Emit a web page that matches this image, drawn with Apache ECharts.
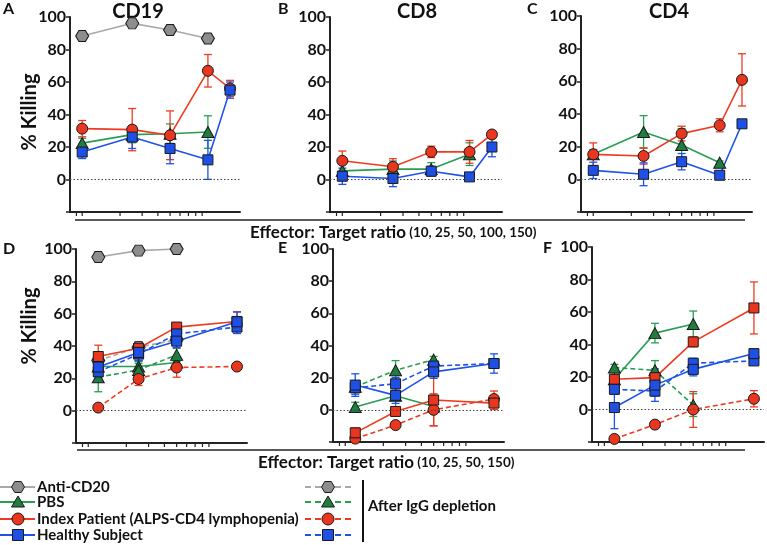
<!DOCTYPE html>
<html><head><meta charset="utf-8">
<script src="https://cdn.jsdelivr.net/npm/echarts@6/dist/echarts.min.js"></script>
<style>html,body{margin:0;padding:0;background:#fff}#c{width:767px;height:545px}</style>
</head><body><div id="c"></div>
<script>
// E:T ratios (x positions)
const xTop = [10, 25, 50, 100, 150];
const xBottom = [12, 25, 50, 150];
const yTicks = [0, 20, 40, 60, 80, 100];
const xMinorTicks = [9, 10, 20, 30, 40, 50, 60, 70, 80, 90];

// Panel A - CD19
const A_anti = [88.3, 96.1, 92, 86.8, null];      const A_anti_err = [1, 1, 3, 1, 0];
const A_pbs = [22.4, 27.6, 28.2, 29.2, null];     const A_pbs_err = [3, 5, 6, 10, 0];
const A_index = [31.3, 30.7, 27.2, 66.9, 56];     const A_index_err = [5, 13, 15, 10, 5];
const A_healthy = [16.9, 26.1, 19.1, 12.1, 55];   const A_healthy_err = [4, 7, 9.4, 12, 5];
// Panel B - CD8
const B_pbs = [5.3, 6.4, 6.4, 15.6, null];        const B_pbs_err = [4, 5, 4, 7, 0];
const B_index = [11.5, 7.8, 17, 17, 27.7];        const B_index_err = [6, 5, 3.5, 7, 2];
const B_healthy = [2, 0.6, 5.1, 1.6, 20];         const B_healthy_err = [5, 5, 3, 1, 6];
// Panel C - CD4
const C_pbs = [15.3, 29, 21, 10.2, null];         const C_pbs_err = [3, 10, 10, 1, 0];
const C_index = [15.3, 14.3, 28, 33.1, 60.9];     const C_index_err = [7, 5, 4.5, 4, 16];
const C_healthy = [5.5, 3.1, 10.8, 2.5, 34];      const C_healthy_err = [5, 7, 5, 1, 1];
// Panel D
const D_anti = [95, 99, 100, null];               const D_anti_err = [1, 1, 1, 0];
const D_antiDep = [31, 39.3, 43.8, null];         const D_antiDep_err = [2, 3, 3, 0];
const D_pbs = [27.3, 27.3, 29.8, null];           const D_pbs_err = [3, 3, 3, 0];
const D_pbsDep = [20.7, 25.2, 34.5, null];        const D_pbsDep_err = [9, 4, 4, 0];
const D_index = [33.5, 38.6, 51.7, 55.2];         const D_index_err = [7, 4, 2, 6];
const D_indexDep = [1.9, 19.6, 26.7, 27.3];       const D_indexDep_err = [1, 4, 6, 2];
const D_healthy = [27, 36, 43, 55];               const D_healthy_err = [4, 5, 4, 6];
const D_healthyDep = [24, 35, 47.5, 51.7];        const D_healthyDep_err = [3, 4, 3, 4];
// Panel E
const E_pbs = [1.7, 8.8, 2.1, null];              const E_pbs_err = [3, 8, 2, 0];
const E_pbsDep = [14.3, 24.6, 31.2, null];        const E_pbsDep_err = [3, 6, 2, 0];
const E_index = [-14.3, -1, 6.1, 4.2];            const E_index_err = [3, 2, 16, 4];
const E_indexDep = [-17.9, -9.5, 0, 6.7];         const E_indexDep_err = [1, 1, 10, 5];
const E_healthy = [15.4, 9, 23.6, 28.8];          const E_healthy_err = [7, 5, 4, 6];
const E_healthyDep = [13.7, 16.2, 27.2, 28.8];    const E_healthyDep_err = [4, 4, 3, 3];
// Panel F
const F_pbs = [18.6, 47, 52.6, null];             const F_pbs_err = [3, 6, 8, 0];
const F_pbsDep = [25.8, 24.1, 2.7, null];         const F_pbsDep_err = [2, 6, 7, 0];
const F_index = [18.6, 19.6, 41.6, 62.5];         const F_index_err = [2, 3, 3, 16];
const F_indexDep = [-18.1, -9.3, 0, 6.6];         const F_indexDep_err = [1, 1, 11, 5];
const F_healthy = [1.2, 15, 24.7, 34.4];          const F_healthy_err = [13, 10, 4, 2];
const F_healthyDep = [12.4, 11.3, 28.5, 29.9];    const F_healthyDep_err = [3, 3, 3, 2];

const FONT = 'Lato, "Open Sans", sans-serif';
const GRAY = '#a9a9a9', GRAYF = '#8d8d8d';
const GREEN = '#2a9d55', GREENF = '#1f7d3f';
const RED = '#ef3a22', REDF = '#e8361f';
const BLUE = '#1f52e8', BLUEF = '#1e50e6';
const HEX = 'path://M-1,0L-0.5,-0.866L0.5,-0.866L1,0L0.5,0.866L-0.5,0.866Z';
const STY = {
  anti:   {c: GRAY, f: GRAYF, s: HEX, z: [13, 11]},
  pbs:    {c: GREEN, f: GREENF, s: 'triangle', z: [12, 11]},
  index:  {c: RED, f: REDF, s: 'circle', z: 11},
  indexSq:{c: RED, f: REDF, s: 'rect', z: 10},
  healthy:{c: BLUE, f: BLUEF, s: 'rect', z: 10}
};

const grids = [
  {left: 70, top: 17, width: 170, height: 195},
  {left: 330, top: 17, width: 172, height: 195},
  {left: 581, top: 16, width: 171, height: 196},
  {left: 76, top: 249, width: 171, height: 194},
  {left: 333, top: 249, width: 171, height: 193},
  {left: 592, top: 247, width: 172, height: 195}
];

const xAxes = grids.map((g, i) => ({
  type: 'log', logBase: 10, min: 8, max: 180, gridIndex: i,
  axisLine: {show: true, onZero: false, lineStyle: {color: '#222', width: 2}},
  axisTick: {show: false},
  axisLabel: {show: false}, splitLine: {show: false}
}));
const yAxes = grids.map((g, i) => ({
  type: 'value', min: -20, max: 100, interval: 20, gridIndex: i,
  axisLine: {show: true, lineStyle: {color: '#222', width: 2}},
  axisTick: {show: true, length: 4, lineStyle: {color: '#222', width: 1.5}},
  axisLabel: {formatter: v => yTicks.indexOf(v) >= 0 ? String(v) : '', fontSize: 16, fontWeight: 'bold', color: '#111', fontFamily: FONT, margin: 4},
  splitLine: {show: false}
}));

const series = [];
// small log-scale tick marks under each x axis
grids.forEach((g, gi) => {
  series.push({
    type: 'custom', xAxisIndex: gi, yAxisIndex: gi, silent: true, z: 1, clip: false,
    data: xMinorTicks.map(v => [v, -20]), encode: {x: 0, y: 1},
    renderItem: function (params, api) {
      const p = api.coord([api.value(0), api.value(1)]);
      return {type: 'line', shape: {x1: p[0], y1: p[1] + 1, x2: p[0], y2: p[1] + 4}, style: {stroke: '#222', lineWidth: 1.2}};
    }
  });
});
function add(gi, xs, vals, errs, key, dashed, zeroLine) {
  const st = STY[key];
  const pts = [], eb = [];
  xs.forEach((x, k) => { if (vals[k] !== null) { pts.push([x, vals[k]]); eb.push([x, vals[k], errs[k]]); } });
  const col = st.c;
  series.push({
    type: 'custom', xAxisIndex: gi, yAxisIndex: gi, data: eb, z: 2, silent: true, clip: false,
    encode: {x: 0, y: 1},
    renderItem: function (params, api) {
      const x = api.value(0), y = api.value(1), e = api.value(2);
      if (!e) return null;
      const t = api.coord([x, y + e]), b = api.coord([x, y - e]);
      const w = 4, ls = {stroke: col, lineWidth: 1.3};
      return {type: 'group', children: [
        {type: 'line', shape: {x1: t[0], y1: t[1], x2: b[0], y2: b[1]}, style: ls},
        {type: 'line', shape: {x1: t[0] - w, y1: t[1], x2: t[0] + w, y2: t[1]}, style: ls},
        {type: 'line', shape: {x1: b[0] - w, y1: b[1], x2: b[0] + w, y2: b[1]}, style: ls}
      ]};
    }
  });
  const s = {
    type: 'line', xAxisIndex: gi, yAxisIndex: gi, data: pts, z: 3, silent: true, clip: false,
    symbol: st.s, symbolSize: st.z, showAllSymbol: true,
    lineStyle: {color: col, width: 1.6, type: dashed ? [5, 3] : 'solid'},
    itemStyle: {color: st.f, borderColor: '#1a1a1a', borderWidth: 1}
  };
  if (zeroLine) {
    s.markLine = {silent: true, symbol: 'none', label: {show: false},
      lineStyle: {color: '#444', type: [1.5, 2], width: 1}, data: [{yAxis: 0}]};
  }
  series.push(s);
}

// Top row
add(0, xTop, A_anti, A_anti_err, 'anti', false, true);
add(0, xTop, A_pbs, A_pbs_err, 'pbs', false);
add(0, xTop, A_index, A_index_err, 'index', false);
add(0, xTop, A_healthy, A_healthy_err, 'healthy', false);
add(1, xTop, B_pbs, B_pbs_err, 'pbs', false, true);
add(1, xTop, B_index, B_index_err, 'index', false);
add(1, xTop, B_healthy, B_healthy_err, 'healthy', false);
add(2, xTop, C_pbs, C_pbs_err, 'pbs', false, true);
add(2, xTop, C_index, C_index_err, 'index', false);
add(2, xTop, C_healthy, C_healthy_err, 'healthy', false);
// Bottom row
add(3, xBottom, D_anti, D_anti_err, 'anti', false, true);
add(3, xBottom, D_antiDep, D_antiDep_err, 'anti', true);
add(3, xBottom, D_pbs, D_pbs_err, 'pbs', false);
add(3, xBottom, D_pbsDep, D_pbsDep_err, 'pbs', true);
add(3, xBottom, D_indexDep, D_indexDep_err, 'index', true);
add(3, xBottom, D_index, D_index_err, 'indexSq', false);
add(3, xBottom, D_healthyDep, D_healthyDep_err, 'healthy', true);
add(3, xBottom, D_healthy, D_healthy_err, 'healthy', false);
add(4, xBottom, E_pbs, E_pbs_err, 'pbs', false, true);
add(4, xBottom, E_pbsDep, E_pbsDep_err, 'pbs', true);
add(4, xBottom, E_indexDep, E_indexDep_err, 'index', true);
add(4, xBottom, E_index, E_index_err, 'indexSq', false);
add(4, xBottom, E_healthyDep, E_healthyDep_err, 'healthy', true);
add(4, xBottom, E_healthy, E_healthy_err, 'healthy', false);
add(5, xBottom, F_pbs, F_pbs_err, 'pbs', false, true);
add(5, xBottom, F_pbsDep, F_pbsDep_err, 'pbs', true);
add(5, xBottom, F_indexDep, F_indexDep_err, 'index', true);
add(5, xBottom, F_index, F_index_err, 'indexSq', false);
add(5, xBottom, F_healthyDep, F_healthyDep_err, 'healthy', true);
add(5, xBottom, F_healthy, F_healthy_err, 'healthy', false);

// graphics: texts, separators, legend
const G = [];
function txt(x, y, t, size, align, rot) {
  G.push({type: 'text', x: x, y: y, rotation: rot || 0,
    style: {text: t, font: 'bold ' + size + 'px ' + FONT, fill: '#111', textAlign: align || 'left', textVerticalAlign: 'middle'}});
}
txt(3, 9, 'A', 16); txt(278, 9, 'B', 16); txt(527, 9, 'C', 16);
txt(3, 249, 'D', 16); txt(278, 248, 'E', 16); txt(543, 248, 'F', 16);
txt(138, 12, 'CD19', 20, 'center'); txt(417, 12, 'CD8', 20, 'center'); txt(669, 12, 'CD4', 20, 'center');
txt(30, 112, '% Killing', 20, 'center', Math.PI / 2);
txt(30, 326, '% Killing', 20, 'center', Math.PI / 2);
G.push({type: 'text', x: 250, y: 233, style: {text: '{a|Effector: Target ratio} {b|(10, 25, 50, 100, 150)}',
  rich: {a: {font: 'bold 17px ' + FONT, fill: '#111'}, b: {font: 'bold 13.5px ' + FONT, fill: '#111'}}, textVerticalAlign: 'middle'}});
G.push({type: 'text', x: 258, y: 463, style: {text: '{a|Effector: Target ratio} {b|(10, 25, 50, 150)}',
  rich: {a: {font: 'bold 17px ' + FONT, fill: '#111'}, b: {font: 'bold 13.5px ' + FONT, fill: '#111'}}, textVerticalAlign: 'middle'}});
G.push({type: 'line', shape: {x1: 75, y1: 220, x2: 745, y2: 220}, style: {stroke: '#222', lineWidth: 1.5}});
G.push({type: 'line', shape: {x1: 77, y1: 450, x2: 745, y2: 450}, style: {stroke: '#222', lineWidth: 1.5}});

function marker(key, cx, cy) {
  const st = STY[key];
  const style = {fill: st.f, stroke: '#1a1a1a', lineWidth: 1};
  if (key === 'anti') {
    const r = 6.5, h = 5.5;
    G.push({type: 'polygon', shape: {points: [[cx - r, cy], [cx - r / 2, cy - h], [cx + r / 2, cy - h], [cx + r, cy], [cx + r / 2, cy + h], [cx - r / 2, cy + h]]}, style: style});
  } else if (key === 'pbs') {
    G.push({type: 'polygon', shape: {points: [[cx, cy - 6], [cx + 6.5, cy + 5], [cx - 6.5, cy + 5]]}, style: style});
  } else if (key === 'index') {
    G.push({type: 'circle', shape: {cx: cx, cy: cy, r: 6}, style: style});
  } else {
    G.push({type: 'rect', shape: {x: cx - 5.5, y: cy - 5.5, width: 11, height: 11}, style: style});
  }
}
const legRows = [['anti', 487, 'Anti-CD20'], ['pbs', 502, 'PBS'], ['index', 519, 'Index Patient (ALPS-CD4 lymphopenia)'], ['healthy', 535, 'Healthy Subject']];
legRows.forEach(r => {
  const st = STY[r[0]];
  G.push({type: 'line', shape: {x1: 0, y1: r[1], x2: 35, y2: r[1]}, style: {stroke: st.c, lineWidth: 2}});
  marker(r[0], 18, r[1]);
  txt(37, r[1], r[2], 15);
  G.push({type: 'line', shape: {x1: 305, y1: r[1], x2: 352, y2: r[1]}, style: {stroke: st.c, lineWidth: 2, lineDash: [6, 4]}});
  marker(r[0], 328, r[1]);
});
G.push({type: 'line', shape: {x1: 363, y1: 480, x2: 363, y2: 542}, style: {stroke: '#111', lineWidth: 2}});
txt(368, 506, 'After IgG depletion', 15);

const chart = echarts.init(document.getElementById('c'), null, {renderer: 'canvas'});
chart.setOption({
  animation: false,
  backgroundColor: '#fff',
  grid: grids,
  xAxis: xAxes,
  yAxis: yAxes,
  series: series,
  graphic: G
});
</script></body></html>
